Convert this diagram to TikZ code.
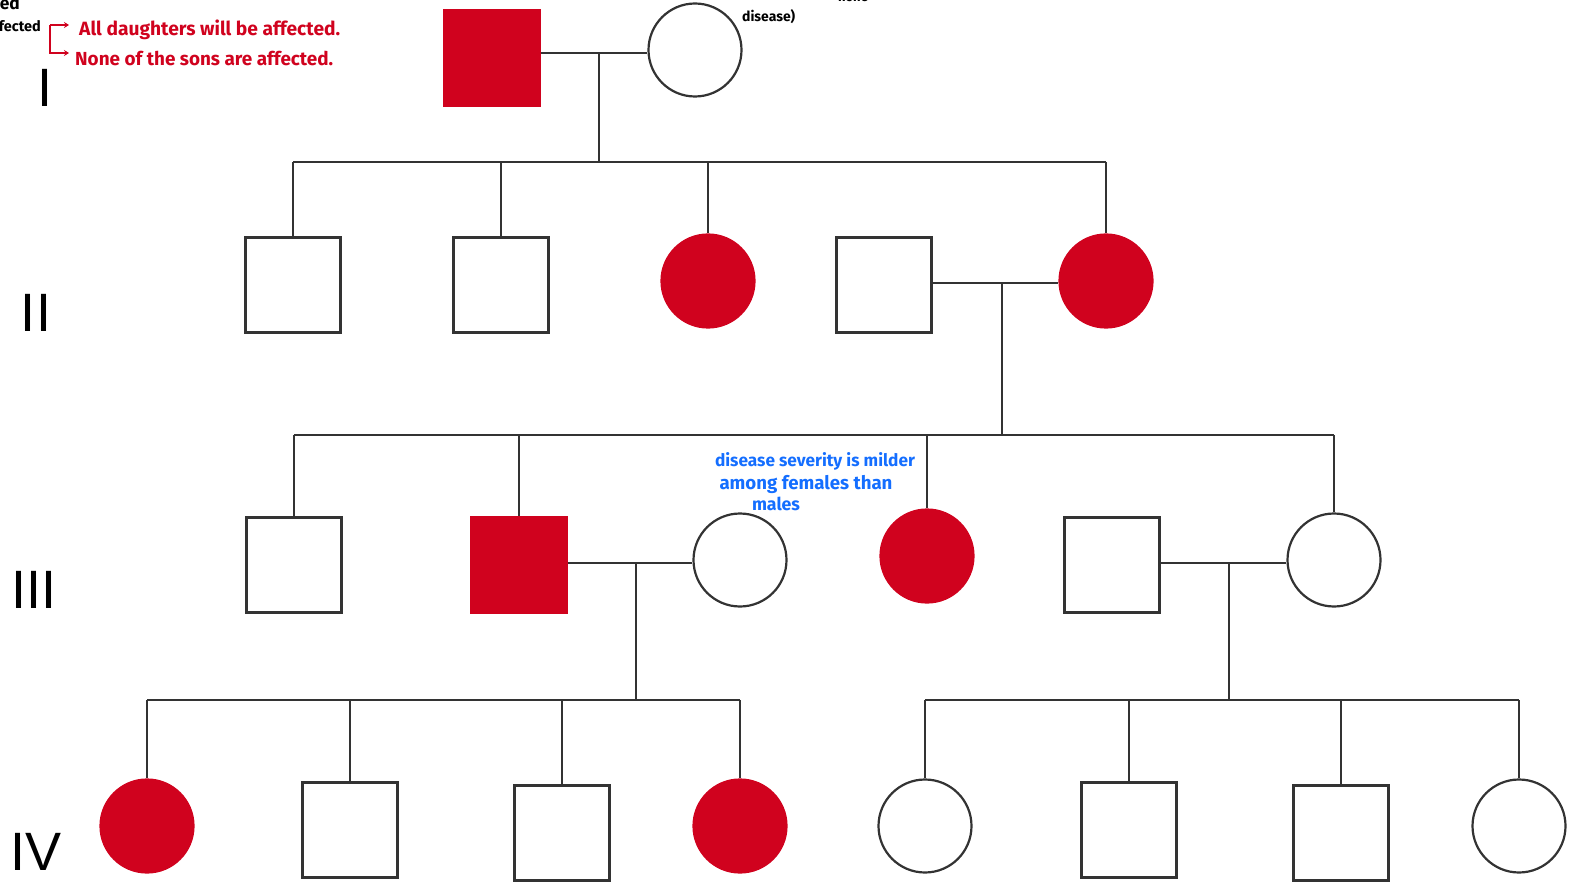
\documentclass[tikz,border=0pt]{standalone}
\usepackage{fontspec}
\setmainfont{Liberation Sans}
\newfontfamily\hand{Fira Sans}
\usetikzlibrary{arrows.meta}
\definecolor{aff}{RGB}{208,2,30}
\definecolor{note}{RGB}{20,110,255}
\tikzset{
  line/.style={line width=2.2pt, draw=black!80},
  male/.style={rectangle, draw=black!80, line width=2.2pt, minimum size=95pt, inner sep=0pt, fill=white},
  female/.style={circle, draw=black!80, line width=2.2pt, minimum size=93pt, inner sep=0pt, fill=white},
  affm/.style={male, fill=aff, draw=aff},
  afff/.style={female, fill=aff, draw=aff},
  gen/.style={font=\fontsize{54}{54}\selectfont, inner sep=0pt},
  rednote/.style={text=aff, font=\hand\bfseries, inner sep=0pt, anchor=west},
  bluenote/.style={text=note, font=\hand\bfseries, inner sep=0pt},
  blknote/.style={text=black, font=\hand\bfseries, inner sep=0pt}
}
\begin{document}
\begin{tikzpicture}[x=1pt,y=-1pt]
\useasboundingbox (0,0) rectangle (1569,885);
\begin{scope}
\clip (0,0) rectangle (1569,885);
% generation labels
\node[gen] (gI) at (45,88) {I};
\node[gen] (gII) at (36,313) {II};
\node[gen] (gIII) at (34,590) {III};
\node[gen] (gIV) at (36,852) {IV};
% cut-off notes
\node[blknote, anchor=east] (n1) at (20,3) {\resizebox{20pt}{!}{ed}};
\node[blknote, anchor=east] (n2) at (41,26) {\resizebox{42pt}{!}{fected}};
\node[blknote, anchor=west] (n3) at (742,17) {\resizebox{53pt}{!}{disease)}};
\node[blknote] (n4) at (853,-2) {\resizebox{30pt}{!}{none}};
\end{scope}
% red notes
\coordinate (b1) at (50,25);
\coordinate (b2) at (50,53);
\coordinate (t1) at (69,25);
\coordinate (t2) at (69,53);
\draw[aff, line width=2pt, -{Stealth[length=5pt,width=6pt]}] (b1) -- (t1);
\draw[aff, line width=2pt, -{Stealth[length=5pt,width=6pt]}] (b1) -- (b2) -- (t2);
\node[rednote] (r1) at (79,30) {\resizebox{261pt}{!}{All daughters will be affected.}};
\node[rednote] (r2) at (75,58) {\resizebox{258pt}{!}{None of the sons are affected.}};
% blue note
\node[bluenote] (bl1) at (815,461) {\resizebox{200pt}{!}{disease severity is milder}};
\node[bluenote] (bl2) at (806,484) {\resizebox{173pt}{!}{among females than}};
\node[bluenote] (bl3) at (776,504) {\resizebox{48pt}{!}{males}};

% Generation I
\node[affm] (I1) at (492,58) {};
\node[female] (I2) at (695,50) {};
% Generation II
\node[male] (II1) at (293,285) {};
\node[male] (II2) at (501,285) {};
\node[afff] (II3) at (708,281) {};
\node[male] (II4) at (884,285) {};
\node[afff] (II5) at (1106,281) {};
% Generation III
\node[male] (III1) at (294,565) {};
\node[affm] (III2) at (519,565) {};
\node[female] (III3) at (740,560) {};
\node[afff] (III4) at (927,556) {};
\node[male] (III5) at (1112,565) {};
\node[female] (III6) at (1334,560) {};
% Generation IV
\node[afff] (IV1) at (147,826) {};
\node[male] (IV2) at (350,830) {};
\node[male] (IV3) at (562,833) {};
\node[afff] (IV4) at (740,826) {};
\node[female] (IV5) at (925,826) {};
\node[male] (IV6) at (1129,830) {};
\node[male] (IV7) at (1341,833) {};
\node[female] (IV8) at (1519,826) {};

% couple and sibship lines
\coordinate (m1) at (599,53);
\coordinate (s1) at (599,162);
\draw[line] (I1.east |- m1) -- (I2.west |- m1);
\draw[line] (m1) -- (s1);
\draw[line] (II1.north |- s1) -- (II5.north |- s1);
\draw[line] (II1.north |- s1) -- (II1.north);
\draw[line] (II2.north |- s1) -- (II2.north);
\draw[line] (II3.north |- s1) -- (II3.north);
\draw[line] (II5.north |- s1) -- (II5.north);

\coordinate (m2) at (1002,283);
\coordinate (s2) at (1002,435);
\draw[line] (II4.east |- m2) -- (II5.west |- m2);
\draw[line] (m2) -- (s2);
\draw[line] (III1.north |- s2) -- (III6.north |- s2);
\draw[line] (III1.north |- s2) -- (III1.north);
\draw[line] (III2.north |- s2) -- (III2.north);
\draw[line] (III4.north |- s2) -- (III4.north);
\draw[line] (III6.north |- s2) -- (III6.north);

\coordinate (m3) at (636,563);
\coordinate (s3) at (636,700);
\draw[line] (III2.east |- m3) -- (III3.west |- m3);
\draw[line] (m3) -- (s3);
\draw[line] (IV1.north |- s3) -- (IV4.north |- s3);
\draw[line] (IV1.north |- s3) -- (IV1.north);
\draw[line] (IV2.north |- s3) -- (IV2.north);
\draw[line] (IV3.north |- s3) -- (IV3.north);
\draw[line] (IV4.north |- s3) -- (IV4.north);

\coordinate (m4) at (1229,563);
\coordinate (s4) at (1229,700);
\draw[line] (III5.east |- m4) -- (III6.west |- m4);
\draw[line] (m4) -- (s4);
\draw[line] (IV5.north |- s4) -- (IV8.north |- s4);
\draw[line] (IV5.north |- s4) -- (IV5.north);
\draw[line] (IV6.north |- s4) -- (IV6.north);
\draw[line] (IV7.north |- s4) -- (IV7.north);
\draw[line] (IV8.north |- s4) -- (IV8.north);
\end{tikzpicture}
\end{document}
